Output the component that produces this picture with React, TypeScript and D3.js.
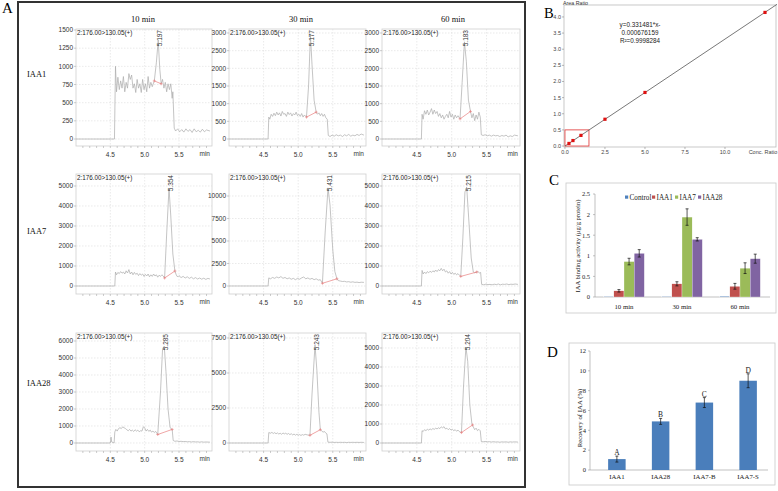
import React from 'react';
import * as d3 from 'd3';

type P = [number, number];

// ---------------- Panel A data ----------------
const columnTitles = ['10 min', '30 min', '60 min'];
const rowLabels = ['IAA1', 'IAA7', 'IAA28'];
const transitionLabel = '2:176.00>130.05(+)';
const peakLabels = [
  ['5.197', '5.177', '5.183'],
  ['5.354', '5.431', '5.215'],
  ['5.285', '5.243', '5.204'],
];
const timeTicks = [4.5, 5.0, 5.5];
const yTicksA = [
  [[0, 250, 500, 750, 1000, 1250, 1500], [0, 500, 1000, 1500, 2000, 2500, 3000], [0, 500, 1000, 1500, 2000, 2500, 3000]],
  [[0, 1000, 2000, 3000, 4000, 5000], [0, 2500, 5000, 7500, 10000], [0, 1000, 2000, 3000, 4000, 5000]],
  [[0, 1000, 2000, 3000, 4000, 5000, 6000], [0, 2500, 5000, 7500], [0, 1000, 2000, 3000, 4000, 5000]],
];
const yDomainsA: P[][] = [
  [[-96, 1514], [-198, 3113], [-198, 3113]],
  [[-400, 5600], [-889, 12444], [-400, 5600]],
  [[-470, 6470], [-571, 7857], [-421, 5790]],
];

const iaa1_10: P[] = [[4.0,0],[4.56,0],[4.575,1000],[4.59,650],[4.61,850],[4.63,680],[4.65,800],[4.67,700],[4.69,860],[4.71,650],[4.73,780],[4.75,700],[4.77,900],[4.79,820],[4.81,880],[4.83,700],[4.85,760],[4.87,640],[4.89,820],[4.91,700],[4.93,760],[4.95,640],[4.97,820],[4.99,680],[5.01,760],[5.03,650],[5.05,860],[5.07,700],[5.09,780],[5.11,720],[5.14,800],[5.17,1050],[5.197,1360],[5.22,960],[5.24,760],[5.26,820],[5.28,700],[5.30,780],[5.32,650],[5.34,760],[5.36,680],[5.38,760],[5.40,560],[5.41,650],[5.43,150],[5.45,110],[5.48,140],[5.51,100],[5.54,130],[5.57,95],[5.60,140],[5.63,105],[5.66,130],[5.69,90],[5.72,140],[5.75,100],[5.78,120],[5.81,95],[5.84,135],[5.87,100],[5.90,125],[5.95,110]];
const iaa1_30: P[] = [[4.0,0],[4.565,0],[4.575,620],[4.59,560],[4.61,700],[4.63,640],[4.65,730],[4.67,660],[4.69,760],[4.71,680],[4.73,740],[4.75,650],[4.77,780],[4.79,700],[4.81,720],[4.83,640],[4.85,760],[4.87,690],[4.89,740],[4.91,650],[4.93,720],[4.95,680],[4.97,760],[4.99,660],[5.01,700],[5.03,640],[5.05,720],[5.07,620],[5.09,680],[5.12,620],[5.15,1500],[5.177,2950],[5.20,2100],[5.23,1100],[5.26,760],[5.28,700],[5.30,740],[5.32,660],[5.34,720],[5.36,640],[5.38,700],[5.40,600],[5.42,560],[5.435,100],[5.46,70],[5.49,110],[5.52,80],[5.55,120],[5.58,90],[5.61,110],[5.64,70],[5.67,120],[5.70,90],[5.73,130],[5.76,80],[5.79,110],[5.82,90],[5.85,130],[5.88,100],[5.91,140],[5.95,110]];
const iaa1_60: P[] = [[4.0,0],[4.565,0],[4.575,700],[4.59,560],[4.61,800],[4.63,700],[4.65,820],[4.67,680],[4.69,760],[4.71,860],[4.73,700],[4.75,820],[4.77,720],[4.79,780],[4.81,640],[4.83,720],[4.85,600],[4.87,680],[4.89,560],[4.91,640],[4.93,700],[4.95,600],[4.97,780],[4.99,620],[5.01,700],[5.03,560],[5.05,680],[5.07,600],[5.09,660],[5.12,570],[5.15,1600],[5.183,2750],[5.21,2200],[5.24,1100],[5.27,780],[5.29,600],[5.31,720],[5.33,520],[5.35,680],[5.37,560],[5.39,760],[5.41,620],[5.425,120],[5.45,100],[5.48,120],[5.51,90],[5.54,110],[5.57,80],[5.60,110],[5.63,90],[5.66,100],[5.69,70],[5.72,100],[5.75,80],[5.78,110],[5.81,60],[5.84,90],[5.87,70],[5.90,110],[5.95,90]];
const iaa7_10: P[] = [[4.0,0],[4.565,0],[4.575,700],[4.59,560],[4.61,680],[4.63,620],[4.65,720],[4.67,640],[4.69,700],[4.71,600],[4.73,760],[4.75,650],[4.77,820],[4.79,600],[4.81,700],[4.83,560],[4.85,680],[4.87,580],[4.89,640],[4.91,520],[4.93,620],[4.95,540],[4.97,600],[4.99,480],[5.01,580],[5.03,500],[5.05,600],[5.07,460],[5.09,560],[5.11,480],[5.13,600],[5.15,500],[5.17,560],[5.19,440],[5.21,540],[5.23,480],[5.25,560],[5.27,500],[5.29,400],[5.32,2600],[5.354,4900],[5.38,3500],[5.41,1600],[5.44,750],[5.46,550],[5.48,450],[5.50,520],[5.53,420],[5.56,480],[5.59,400],[5.62,460],[5.65,380],[5.68,440],[5.71,360],[5.74,420],[5.77,350],[5.80,400],[5.83,340],[5.86,390],[5.89,330],[5.92,380],[5.95,350]];
const iaa7_30: P[] = [[4.0,0],[4.565,0],[4.575,900],[4.60,800],[4.63,950],[4.66,850],[4.69,1000],[4.72,900],[4.75,1050],[4.78,850],[4.81,950],[4.84,800],[4.87,900],[4.90,750],[4.93,850],[4.96,700],[4.99,850],[5.02,750],[5.05,900],[5.08,1000],[5.11,800],[5.14,900],[5.17,750],[5.20,850],[5.23,700],[5.26,800],[5.29,650],[5.32,700],[5.35,300],[5.39,6000],[5.431,10900],[5.46,9000],[5.50,4000],[5.53,1600],[5.56,800],[5.58,600],[5.61,550],[5.64,500],[5.67,520],[5.70,450],[5.73,480],[5.76,420],[5.79,460],[5.82,400],[5.85,430],[5.88,380],[5.91,420],[5.95,400]];
const iaa7_60: P[] = [[4.0,0],[4.565,0],[4.575,780],[4.59,600],[4.61,700],[4.63,620],[4.65,720],[4.67,660],[4.69,740],[4.71,680],[4.73,760],[4.75,700],[4.77,800],[4.79,720],[4.81,820],[4.83,760],[4.85,880],[4.87,760],[4.89,840],[4.91,700],[4.93,760],[4.95,640],[4.97,720],[4.99,600],[5.01,680],[5.03,580],[5.05,640],[5.07,560],[5.09,620],[5.11,540],[5.13,480],[5.16,2400],[5.19,4700],[5.215,4950],[5.24,3600],[5.28,1400],[5.31,700],[5.33,660],[5.36,700],[5.38,720],[5.40,640],[5.415,680],[5.43,80],[5.46,60],[5.49,90],[5.52,70],[5.55,80],[5.58,60],[5.61,90],[5.64,70],[5.67,100],[5.70,60],[5.73,90],[5.76,80],[5.79,100],[5.82,70],[5.85,90],[5.88,80],[5.91,100],[5.95,80]];
const iaa28_10: P[] = [[4.0,0],[4.50,0],[4.51,350],[4.52,60],[4.555,0],[4.565,650],[4.58,800],[4.60,700],[4.62,850],[4.64,900],[4.66,850],[4.68,950],[4.70,900],[4.72,850],[4.74,780],[4.76,720],[4.78,800],[4.80,700],[4.82,760],[4.84,680],[4.86,780],[4.88,700],[4.90,760],[4.92,660],[4.94,720],[4.96,700],[4.98,950],[5.00,900],[5.02,700],[5.04,800],[5.06,680],[5.08,760],[5.10,640],[5.12,700],[5.14,620],[5.16,680],[5.19,500],[5.23,3000],[5.26,5500],[5.285,5700],[5.31,4200],[5.34,2000],[5.37,900],[5.40,800],[5.415,150],[5.44,100],[5.47,120],[5.50,90],[5.53,100],[5.56,80],[5.59,90],[5.62,70],[5.65,80],[5.68,60],[5.71,80],[5.74,60],[5.77,70],[5.80,50],[5.83,70],[5.86,50],[5.89,60],[5.95,50]];
const iaa28_30: P[] = [[4.0,0],[4.565,0],[4.575,750],[4.60,700],[4.62,760],[4.64,680],[4.66,740],[4.68,660],[4.70,720],[4.72,640],[4.74,700],[4.76,620],[4.78,720],[4.80,650],[4.82,700],[4.84,620],[4.86,680],[4.88,600],[4.90,660],[4.92,580],[4.94,640],[4.96,560],[4.98,620],[5.00,560],[5.02,600],[5.04,540],[5.06,600],[5.08,560],[5.10,620],[5.13,580],[5.17,550],[5.20,3500],[5.243,7000],[5.27,5200],[5.30,2200],[5.32,950],[5.34,850],[5.36,780],[5.38,820],[5.40,700],[5.415,650],[5.43,60],[5.46,50],[5.49,60],[5.52,40],[5.55,50],[5.58,40],[5.61,50],[5.64,40],[5.67,50],[5.70,30],[5.73,50],[5.76,40],[5.79,50],[5.82,40],[5.85,50],[5.88,40],[5.91,50],[5.95,40]];
const iaa28_60: P[] = [[4.0,0],[4.565,0],[4.575,650],[4.59,600],[4.61,700],[4.63,650],[4.65,720],[4.67,680],[4.69,740],[4.71,700],[4.73,760],[4.75,720],[4.77,780],[4.79,740],[4.81,800],[4.83,760],[4.85,850],[4.87,800],[4.89,860],[4.91,740],[4.93,780],[4.95,700],[4.97,760],[4.99,680],[5.01,720],[5.03,650],[5.05,700],[5.07,620],[5.09,680],[5.11,600],[5.14,550],[5.17,3000],[5.204,5050],[5.23,4300],[5.26,2000],[5.29,1000],[5.31,850],[5.33,700],[5.35,780],[5.37,650],[5.39,720],[5.41,640],[5.425,80],[5.45,60],[5.48,80],[5.51,60],[5.54,70],[5.57,50],[5.60,70],[5.63,50],[5.66,60],[5.69,40],[5.72,60],[5.75,50],[5.78,60],[5.81,40],[5.84,60],[5.87,50],[5.90,60],[5.95,50]];
const traces: P[][][] = [
  [iaa1_10, iaa1_30, iaa1_60],
  [iaa7_10, iaa7_30, iaa7_60],
  [iaa28_10, iaa28_30, iaa28_60],
];
// integration baseline (start, end) of each peak
const baselines: P[][][] = [
  [[[5.14, 800], [5.24, 760]], [[5.12, 620], [5.26, 760]], [[5.12, 570], [5.27, 780]]],
  [[[5.29, 400], [5.44, 750]], [[5.35, 300], [5.56, 800]], [[5.13, 480], [5.36, 700]]],
  [[[5.19, 500], [5.40, 800]], [[5.17, 550], [5.32, 950]], [[5.14, 550], [5.30, 950]]],
];

// ---------------- Panel B data ----------------
const concRatio = [0.25, 0.5, 1, 2.5, 5, 12.5];
const areaRatio = [0.08, 0.17, 0.33, 0.83, 1.66, 4.14];
const calSlope = 0.331481;
const calIntercept = -0.000676159;
const bXTicks = [0, 2.5, 5, 7.5, 10];
const bYTicks = [0, 0.5, 1, 1.5, 2, 2.5, 3, 3.5, 4];
const eqLines = ['y=0.331481*x-', '0.000676159', 'R²=0.9998284'];

// ---------------- Panel C data ----------------
const cGroups = ['10 min', '30 min', '60 min'];
const cSeries = ['Control', 'IAA1', 'IAA7', 'IAA28'];
const cColors = ['#4f81bd', '#c0504d', '#9bbb59', '#8064a2'];
const controlVals = [0.01, 0.01, 0.02];
const iaa1Vals = [0.15, 0.32, 0.26];
const iaa7Vals = [0.86, 1.94, 0.70];
const iaa28Vals = [1.06, 1.40, 0.93];
const controlErr = [0, 0, 0];
const iaa1Err = [0.03, 0.05, 0.07];
const iaa7Err = [0.08, 0.20, 0.13];
const iaa28Err = [0.09, 0.04, 0.11];
const cYTicks = [0, 0.5, 1, 1.5, 2, 2.5];

// ---------------- Panel D data ----------------
const dCats = ['IAA1', 'IAA28', 'IAA7-B', 'IAA7-S'];
const dVals = [1.1, 4.9, 6.8, 9.0];
const dErr = [0.3, 0.3, 0.5, 0.7];
const dLetters = ['A', 'B', 'C', 'D'];
const dYTicks = [0, 2, 4, 6, 8, 10, 12];

const SERIF = '"Liberation Serif", "Times New Roman", serif';
const SANS = '"Liberation Sans", Arial, sans-serif';

const colX: P[] = [[76, 212], [229, 366], [382, 520]];
const rowY: P[] = [[29, 146], [174, 294], [333, 451]];

function Chrom({ r, c }: { r: number; c: number }) {
  const [x0, x1] = colX[c];
  const [y0, y1] = rowY[r];
  const x = d3.scaleLinear().domain([4.0, 5.98]).range([x0, x1]);
  const y = d3.scaleLinear().domain(yDomainsA[r][c]).range([y1, y0]);
  const line = d3.line<P>().x(d => x(d[0])).y(d => y(d[1]));
  const data = traces[r][c];
  const bl = baselines[r][c];
  const peak = data.reduce((a, b) => (b[1] > a[1] ? b : a));
  const minor = d3.range(41, 60).map(v => v / 10);
  return (
    <g>
      <rect x={x0} y={y0} width={x1 - x0} height={y1 - y0} fill="#fff" stroke="#cfcfcf" strokeWidth={0.8} />
      {yTicksA[r][c].map(t => (
        <g key={'y' + t}>
          <line x1={x0} x2={x1} y1={y(t)} y2={y(t)} stroke="#dcdcdc" strokeWidth={0.6} strokeDasharray="1.5,1.5" />
          <line x1={x0 - 2} x2={x0} y1={y(t)} y2={y(t)} stroke="#aaa" strokeWidth={0.6} />
          <text x={x0 - 3} y={y(t) + 2.3} fontSize={6.5} fontFamily={SANS} fill="#333" textAnchor="end">{t}</text>
        </g>
      ))}
      {timeTicks.map(t => (
        <g key={'x' + t}>
          <line x1={x(t)} x2={x(t)} y1={y0} y2={y1} stroke="#dcdcdc" strokeWidth={0.6} strokeDasharray="1.5,1.5" />
          <text x={x(t)} y={y1 + 11} fontSize={6.5} fontFamily={SANS} fill="#333" textAnchor="middle">{t.toFixed(1)}</text>
        </g>
      ))}
      {minor.map(t => (
        <line key={'m' + t} x1={x(t)} x2={x(t)} y1={y1} y2={y1 + 2} stroke="#aaa" strokeWidth={0.6} />
      ))}
      <text x={x1 - 2} y={y1 + 10} fontSize={6.5} fontFamily={SANS} fill="#333" textAnchor="end">min</text>
      <path d={line(data) || ''} fill="none" stroke="#ababab" strokeWidth={0.7} />
      <line x1={x(bl[0][0])} y1={y(bl[0][1])} x2={x(bl[1][0])} y2={y(bl[1][1])} stroke="#e88080" strokeWidth={0.7} />
      {bl.map((p, i) => (
        <g key={'b' + i} stroke="#e88080" strokeWidth={0.6}>
          <line x1={x(p[0]) - 1.5} x2={x(p[0]) + 1.5} y1={y(p[1])} y2={y(p[1])} />
          <line x1={x(p[0])} x2={x(p[0])} y1={y(p[1]) - 1.5} y2={y(p[1]) + 1.5} />
        </g>
      ))}
      <text x={x0 + 1} y={y0 + 6} fontSize={6.3} fontFamily={SANS} fill="#222">{transitionLabel}</text>
      <text transform={`translate(${x(peak[0]) + 4},${y0 + 1}) rotate(-90)`} fontSize={6.5} fontFamily={SANS} fill="#333" textAnchor="end">{peakLabels[r][c]}</text>
    </g>
  );
}

function PanelB() {
  const x = d3.scaleLinear().domain([-0.06, 13.25]).range([564, 777]);
  const y = d3.scaleLinear().domain([-0.03, 4.37]).range([147, 5]);
  const pts = concRatio.map((v, i) => [v, areaRatio[i]] as P);
  const fitX = [0, 13.25];
  return (
    <g>
      <text x={544} y={18} fontSize={14.5} fontFamily={SERIF} fill="#000">B</text>
      <rect x={564} y={5} width={212} height={142} fill="#fff" stroke="#bbb" strokeWidth={0.8} />
      <text x={563} y={4.5} fontSize={5.3} fontFamily={SANS} fill="#333">Area Ratio</text>
      {bYTicks.map(t => (
        <g key={t}>
          <line x1={562} x2={564} y1={y(t)} y2={y(t)} stroke="#888" strokeWidth={0.6} />
          <text x={561} y={y(t) + 2} fontSize={5.5} fontFamily={SANS} fill="#444" textAnchor="end">{t.toFixed(1)}</text>
        </g>
      ))}
      {bXTicks.map(t => (
        <g key={t}>
          <line x1={x(t)} x2={x(t)} y1={147} y2={149} stroke="#888" strokeWidth={0.6} />
          <text x={x(t)} y={153.5} fontSize={5.5} fontFamily={SANS} fill="#444" textAnchor="middle">{t.toFixed(1)}</text>
        </g>
      ))}
      <text x={763} y={153.5} fontSize={5.5} fontFamily={SANS} fill="#444" textAnchor="middle">Conc. Ratio</text>
      <rect x={x(0)} y={y(0.5)} width={x(1.5) - x(0)} height={y(0) - y(0.5)} fill="none" stroke="#e03030" strokeWidth={0.8} />
      <line x1={x(fitX[0])} y1={y(calSlope * fitX[0] + calIntercept)} x2={x(fitX[1])} y2={y(calSlope * fitX[1] + calIntercept)} stroke="#555" strokeWidth={0.8} />
      {pts.map((p, i) => (
        <rect key={i} x={x(p[0]) - 1.6} y={y(p[1]) - 1.6} width={3.2} height={3.2} fill="#e01010" />
      ))}
      {eqLines.map((s, i) => (
        <text key={i} x={640} y={27 + i * 8} fontSize={6.3} fontFamily={SANS} fill="#222" textAnchor="middle">{s}</text>
      ))}
    </g>
  );
}

function PanelC() {
  const x = d3.scaleBand<string>().domain(cGroups).range([595, 769]).paddingInner(0.3).paddingOuter(0.15);
  const xs = d3.scaleBand<string>().domain(cSeries).range([0, x.bandwidth()]);
  const y = d3.scaleLinear().domain([0, 2.5]).range([297, 194]);
  const vals = [controlVals, iaa1Vals, iaa7Vals, iaa28Vals];
  const errs = [controlErr, iaa1Err, iaa7Err, iaa28Err];
  const legendX = [625, 652, 675, 698];
  return (
    <g>
      <text x={549} y={185} fontSize={15} fontFamily={SERIF} fill="#000">C</text>
      <rect x={566} y={183} width={210} height={130} fill="#fff" stroke="#c8c8c8" strokeWidth={0.8} />
      <line x1={595} x2={595} y1={194} y2={297} stroke="#999" strokeWidth={0.6} />
      <line x1={595} x2={770} y1={297} y2={297} stroke="#999" strokeWidth={0.6} />
      {cYTicks.map(t => (
        <g key={t}>
          <line x1={593} x2={595} y1={y(t)} y2={y(t)} stroke="#999" strokeWidth={0.6} />
          <text x={590} y={y(t) + 2.3} fontSize={6.5} fontFamily={SERIF} fill="#222" textAnchor="end">{t}</text>
        </g>
      ))}
      {cGroups.map((g, gi) => (
        <g key={g}>
          {cSeries.map((s, si) => {
            const v = vals[si][gi];
            const e = errs[si][gi];
            const bx = (x(g) || 0) + (xs(s) || 0);
            const cx = bx + xs.bandwidth() / 2;
            return (
              <g key={s}>
                <rect x={bx} y={y(v)} width={xs.bandwidth()} height={y(0) - y(v)} fill={cColors[si]} stroke="#fff" strokeWidth={0.3} />
                {e > 0 && (
                  <g stroke="#111" strokeWidth={0.7}>
                    <line x1={cx} x2={cx} y1={y(v + e)} y2={y(v - e)} />
                    <line x1={cx - 1.5} x2={cx + 1.5} y1={y(v + e)} y2={y(v + e)} />
                    <line x1={cx - 1.5} x2={cx + 1.5} y1={y(v - e)} y2={y(v - e)} />
                  </g>
                )}
              </g>
            );
          })}
          <text x={(x(g) || 0) + x.bandwidth() / 2} y={308.5} fontSize={6.8} fontFamily={SERIF} fill="#222" textAnchor="middle">{g}</text>
        </g>
      ))}
      {cSeries.map((s, i) => (
        <g key={s}>
          <rect x={legendX[i]} y={195.5} width={3.2} height={3.2} fill={cColors[i]} />
          <text x={legendX[i] + 4.5} y={199.8} fontSize={7.2} fontFamily={SERIF} fill="#222">{s}</text>
        </g>
      ))}
      <text transform="translate(580,246) rotate(-90)" fontSize={6.6} fontFamily={SERIF} fill="#222" textAnchor="middle">IAA binding activity (μg/g protein)</text>
    </g>
  );
}

function PanelD() {
  const x = d3.scaleBand<string>().domain(dCats).range([595, 770]).paddingInner(0.6).paddingOuter(0.3);
  const y = d3.scaleLinear().domain([0, 12]).range([470, 351]);
  return (
    <g>
      <text x={547} y={357} fontSize={15} fontFamily={SERIF} fill="#000">D</text>
      <rect x={569} y={343} width={206} height={142} fill="#fff" stroke="#c8c8c8" strokeWidth={0.8} />
      <line x1={590} x2={590} y1={351} y2={470} stroke="#999" strokeWidth={0.6} />
      <line x1={590} x2={768} y1={470} y2={470} stroke="#999" strokeWidth={0.6} />
      {dYTicks.map(t => (
        <g key={t}>
          <line x1={588} x2={590} y1={y(t)} y2={y(t)} stroke="#999" strokeWidth={0.6} />
          <text x={586} y={y(t) + 2.3} fontSize={6.5} fontFamily={SERIF} fill="#222" textAnchor="end">{t}</text>
        </g>
      ))}
      {dCats.map((c, i) => {
        const bx = x(c) || 0;
        const cx = bx + x.bandwidth() / 2;
        const v = dVals[i];
        const e = dErr[i];
        return (
          <g key={c}>
            <rect x={bx} y={y(v)} width={x.bandwidth()} height={y(0) - y(v)} fill="#4a7ebb" />
            <g stroke="#111" strokeWidth={0.7}>
              <line x1={cx} x2={cx} y1={y(v + e)} y2={y(v - e)} />
              <line x1={cx - 1.5} x2={cx + 1.5} y1={y(v + e)} y2={y(v + e)} />
              <line x1={cx - 1.5} x2={cx + 1.5} y1={y(v - e)} y2={y(v - e)} />
            </g>
            <text x={cx} y={y(v + e) - 1} fontSize={7.5} fontFamily={SERIF} fill="#222" textAnchor="middle">{dLetters[i]}</text>
            <text x={cx} y={478.5} fontSize={6.8} fontFamily={SERIF} fill="#222" textAnchor="middle">{c}</text>
          </g>
        );
      })}
      <text transform="translate(582,418) rotate(-90)" fontSize={6.8} fontFamily={SERIF} fill="#222" textAnchor="middle">Recovery of IAA (%)</text>
    </g>
  );
}

export default function App() {
  const titleX = [143, 301, 453];
  const labelY = [77, 234, 386];
  return (
    <svg width={778} height={491} viewBox="0 0 778 491" style={{ position: 'absolute', left: 0, top: 0, background: '#fff' }}>
      <rect x={0} y={0} width={778} height={491} fill="#fff" />
      <text x={2} y={13} fontSize={15} fontFamily={SERIF} fill="#000">A</text>
      <rect x={18} y={2} width={507} height={485} fill="#fff" stroke="#333" strokeWidth={2} />
      {columnTitles.map((t, i) => (
        <text key={t} x={titleX[i]} y={22} fontSize={8.5} fontFamily={SERIF} fill="#111" textAnchor="middle">{t}</text>
      ))}
      {rowLabels.map((t, i) => (
        <text key={t} x={27} y={labelY[i]} fontSize={8.5} fontFamily={SERIF} fill="#111">{t}</text>
      ))}
      {[0, 1, 2].map(r => [0, 1, 2].map(c => <Chrom key={r + '-' + c} r={r} c={c} />))}
      <PanelB />
      <PanelC />
      <PanelD />
    </svg>
  );
}
